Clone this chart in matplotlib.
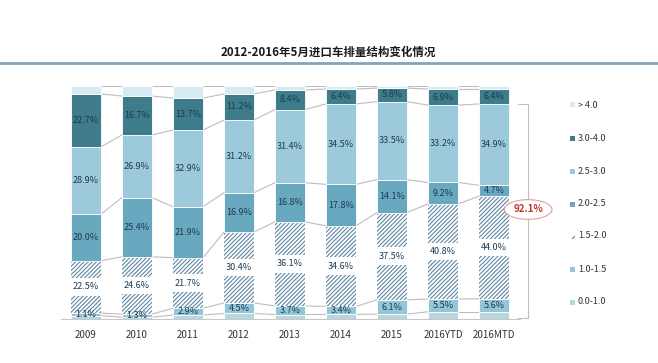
import matplotlib.pyplot as plt
import numpy as np

plt.rcParams['font.family'] = ['Noto Sans CJK SC', 'DejaVu Sans']
plt.rcParams['hatch.linewidth'] = 0.8

years = ['2009', '2010', '2011', '2012', '2013', '2014', '2015', '2016YTD', '2016MTD']
# shares (%) per displacement band, bottom to top
s0_10 = [1.4, 0.8, 1.7, 2.4, 1.9, 2.0, 2.1, 3.1, 3.1]      # unlabeled, estimated
s10_15 = [1.1, 1.3, 2.9, 4.5, 3.7, 3.4, 6.1, 5.5, 5.6]
s15_20 = [22.5, 24.6, 21.7, 30.4, 36.1, 34.6, 37.5, 40.8, 44.0]
s20_25 = [20.0, 25.4, 21.9, 16.9, 16.8, 17.8, 14.1, 9.2, 4.7]
s25_30 = [28.9, 26.9, 32.9, 31.2, 31.4, 34.5, 33.5, 33.2, 34.9]
s30_40 = [22.7, 16.7, 13.7, 11.2, 8.4, 6.4, 5.8, 6.9, 6.4]
s40 = [3.4, 4.3, 5.2, 3.4, 1.7, 1.3, 0.9, 1.3, 1.3]          # unlabeled, estimated
bands = ['0.0-1.0', '1.0-1.5', '1.5-2.0', '2.0-2.5', '2.5-3.0', '3.0-4.0', '> 4.0']
total_label = '92.1%'

series = [s0_10, s10_15, s15_20, s20_25, s25_30, s30_40, s40]
colors = ['#b9d5de', '#92c6d8', 'white', '#68a9c0', '#9dcadb', '#3e7b8b', '#d6eaf1']
labeled = [False, True, True, True, True, True, False]
hatch_col = '#5f86a2'
txt_col = '#1e3a50'

fig = plt.figure(figsize=(6.58, 3.63), dpi=100)
ax = fig.add_axes([60.5 / 658, 44 / 363, 459 / 658, 233 / 363])

x = np.arange(len(years))
w = 0.59
bottom = np.zeros(len(years))
bounds = []
for i, vals in enumerate(series):
    vals = np.array(vals)
    if i == 2:
        ax.bar(x, vals, w, bottom=bottom, color='white', edgecolor=hatch_col,
               hatch='////////', linewidth=0, zorder=2)
        mid = bottom + vals / 2
        ax.bar(x, 7.5, w, bottom=mid - 3.75, color='white', linewidth=0, zorder=3)
    else:
        ax.bar(x, vals, w, bottom=bottom, color=colors[i], edgecolor='white',
               linewidth=0.6, zorder=2)
    if labeled[i]:
        for xi, b, v in zip(x, bottom, vals):
            ax.text(xi, b + v / 2, f'{v:.1f}%', ha='center', va='center',
                    fontsize=6.5, color=txt_col, zorder=4)
    bottom = bottom + vals
    bounds.append(bottom.copy())

# series lines between bars
for b in bounds:
    for j in range(len(years) - 1):
        ax.plot([x[j] + w / 2, x[j + 1] - w / 2], [b[j], b[j + 1]],
                color='#bdbdbd', lw=0.8, zorder=1)

ax.set_xlim(-0.5, len(years) - 0.5)
ax.set_ylim(0, 100)
ax.set_xticks(x)
ax.set_xticklabels(years, fontsize=7, color='#333333')
ax.tick_params(axis='x', length=0, pad=8)
ax.set_yticks([])
for s in ['top', 'right', 'left']:
    ax.spines[s].set_visible(False)
ax.spines['bottom'].set_color('#c8c8c8')

# bracket on the right
top = bounds[4][-1]
bx = 8.67
ax.plot([8.48, bx, bx, 8.48], [top, top, 0.4, 0.4], color='#bfbfbf', lw=0.8,
        clip_on=False)
ax.text(bx, 47, total_label, ha='center', va='center', fontsize=7,
        fontweight='bold', color='#c0392b', clip_on=False, zorder=5,
        bbox=dict(boxstyle='ellipse,pad=0.2', fc='white', ec='#e0a0a0', lw=0.8))

# legend
leg_y = [105, 138, 171, 204, 236, 269, 302]
for k, yy in enumerate(leg_y):
    idx = 6 - k
    yf = 1 - yy / 363
    if idx == 2:
        r = plt.Rectangle((570 / 658, yf - 2.5 / 363), 5 / 658, 5 / 363,
                          transform=fig.transFigure, fc='white', ec=hatch_col,
                          hatch='///', lw=0)
    else:
        r = plt.Rectangle((570 / 658, yf - 2.5 / 363), 5 / 658, 5 / 363,
                          transform=fig.transFigure, fc=colors[idx], lw=0)
    fig.patches.append(r)
    fig.text(578 / 658, yf, bands[idx], fontsize=6.5, color='#333333',
             va='center', ha='left')

fig.text(328 / 658, 1 - 52 / 363, '2012-2016年5月进口车排量结构变化情况',
         ha='center', va='center', fontsize=8.3, fontweight='bold', color='#1a1a1a')
fig.add_artist(plt.Line2D([0, 1], [1 - 63 / 363] * 2, color='#7fa6bd', lw=2,
                          transform=fig.transFigure))

fig.savefig('out.png', dpi=100)
